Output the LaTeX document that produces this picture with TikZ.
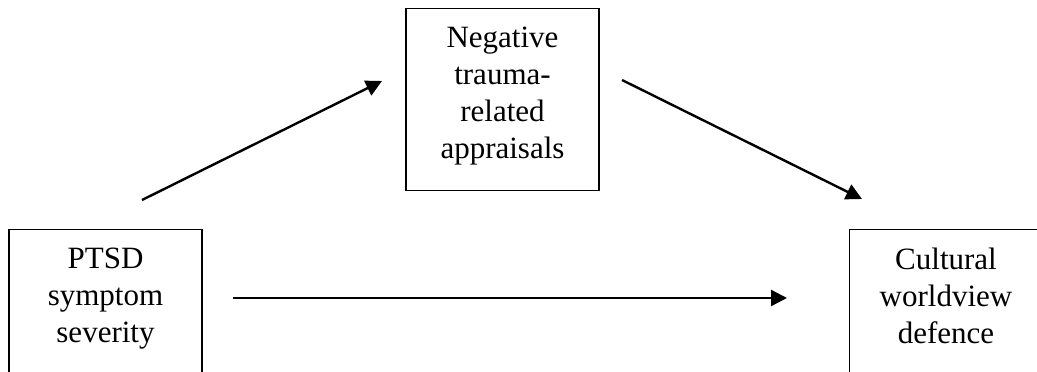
\documentclass[tikz,border=0pt]{standalone}
\usepackage{fontspec}
\setmainfont{Liberation Serif}
\usetikzlibrary{arrows.meta, positioning}

\begin{document}
\begin{tikzpicture}[
    x=1pt, y=-1pt,
    every node/.style={font=\fontsize{31}{37}\selectfont},
    box/.style={rectangle, draw=black, line width=1.4pt, minimum width=193pt, inner sep=0pt, align=center, anchor=north},
    arrow/.style={-{Triangle[length=16pt, width=16pt]}, line width=2.4pt}
]
\clip (0,0) rectangle (1037,372);

\node[box, minimum height=182pt, text depth=13pt] (appraisal) at (502.5,8) {Negative\\trauma-\\related\\appraisals};
\node[box, minimum height=171pt, text depth=39pt] (ptsd) at (105.5,229) {PTSD\\symptom\\severity};
\node[box, minimum height=171pt, text depth=39pt] (defence) at (946,229) {Cultural\\worldview\\defence};

\coordinate (a1) at (142,200);
\coordinate (a2) at (382,81);
\coordinate (b1) at (622,80);
\coordinate (b2) at (862,199);
\coordinate (c1) at (233,298);
\coordinate (c2) at (787,298);

\draw[arrow] (a1) -- (a2);
\draw[arrow] (b1) -- (b2);
\draw[arrow] (c1) -- (c2);

\end{tikzpicture}
\end{document}
